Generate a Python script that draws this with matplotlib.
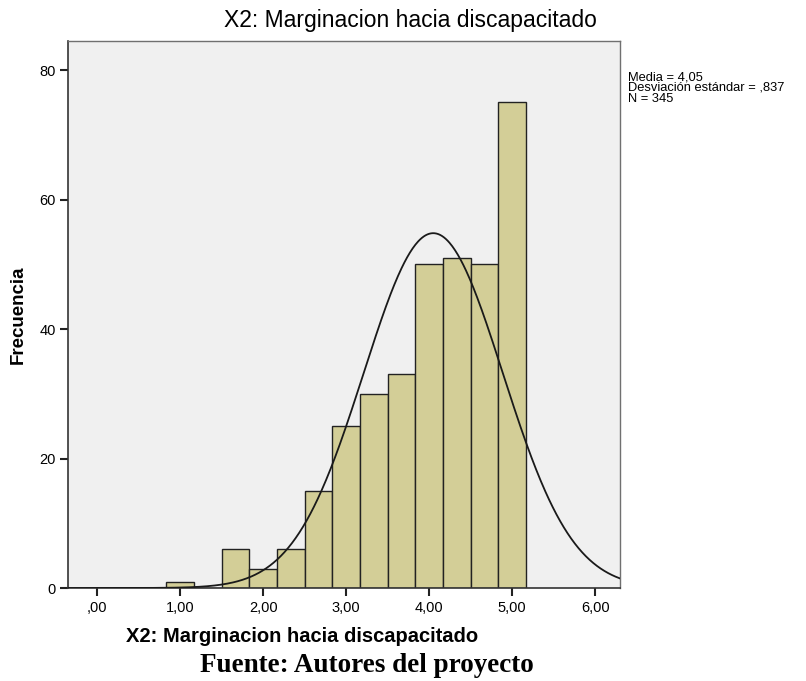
import numpy as np
import matplotlib
matplotlib.use("Agg")
import matplotlib.pyplot as plt

# Data
bin_centers = [1.0, 1.3333, 1.6667, 2.0, 2.3333, 2.6667, 3.0, 3.3333, 3.6667, 4.0, 4.3333, 4.6667, 5.0]
counts = [1, 0, 6, 3, 6, 15, 25, 30, 33, 50, 51, 50, 75]
bin_width = 1 / 3
mean = 4.05
std = 0.837
n = 345
x_ticks = [0, 1, 2, 3, 4, 5, 6]
x_ticklabels = [",00", "1,00", "2,00", "3,00", "4,00", "5,00", "6,00"]
y_ticks = [0, 20, 40, 60, 80]

plt.rcParams['font.family'] = ['Liberation Sans', 'DejaVu Sans']

fig = plt.figure(figsize=(8.06, 6.81), dpi=100)
ax = fig.add_axes([68/806, 1 - 588/681, (620-68)/806, (588-41)/681])
ax.set_facecolor("#f0f0f0")

ax.bar(bin_centers, counts, width=bin_width, color="#d3ce97", edgecolor="#222222",
       linewidth=1.0, zorder=2)

xs = np.linspace(-0.35, 6.3, 600)
ys = n * bin_width / (std * np.sqrt(2 * np.pi)) * np.exp(-0.5 * ((xs - mean) / std) ** 2)
ax.plot(xs, ys, color="#1a1a1a", linewidth=1.3, zorder=3)

ax.set_xlim(-0.35, 6.3)
ax.set_ylim(0, 84.5)
ax.set_xticks(x_ticks)
ax.set_xticklabels(x_ticklabels)
ax.set_yticks(y_ticks)
ax.tick_params(axis='both', direction='out', length=6, width=1.5, color="#222222",
               labelsize=10.5, pad=3)
for s in ['top', 'right']:
    ax.spines[s].set_color("#707070")
    ax.spines[s].set_linewidth(1.0)
for s in ['left', 'bottom']:
    ax.spines[s].set_color("#333333")
    ax.spines[s].set_linewidth(1.2)

fig.text(410/806, 1 - 20/681, "X2: Marginacion hacia discapacitado", ha='center', va='center',
         fontsize=16.5)
fig.text(18/806, 1 - 315/681, "Frecuencia", rotation=90, ha='center', va='center',
         fontsize=13.5, fontweight='bold')
fig.text(302/806, 1 - 636/681, "X2: Marginacion hacia discapacitado", ha='center', va='center',
         fontsize=14.5, fontweight='bold')
fig.text(367/806, 1 - 665/681, "Fuente: Autores del proyecto", ha='center', va='center',
         fontsize=19.5, fontweight='bold', family=['Liberation Serif', 'DejaVu Serif'])
fig.text(628/806, 1 - 71/681,
         "Media = 4,05\nDesviación estándar = ,837\nN = %d" % n,
         ha='left', va='top', fontsize=9.3, linespacing=0.88)

fig.savefig("out.png", dpi=100)
